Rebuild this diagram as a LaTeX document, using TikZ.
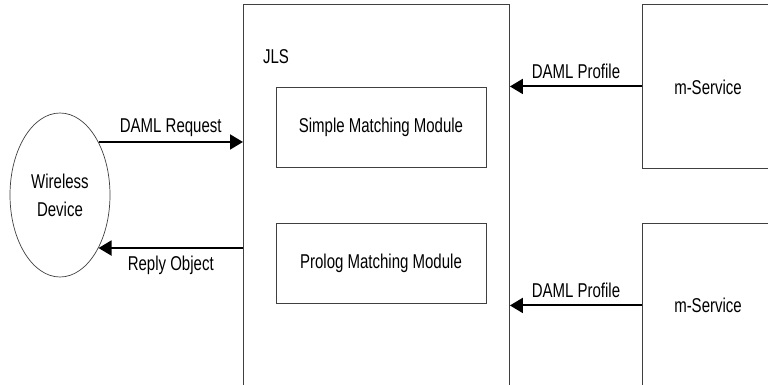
\documentclass[tikz,border=0pt]{standalone}
\usepackage{fontspec}
\setmainfont{Liberation Sans}[FakeStretch=0.75]
\usetikzlibrary{arrows.meta,shapes.geometric}

\begin{document}
\begin{tikzpicture}[x=1pt,y=-1pt,
    every node/.style={font=\fontsize{20}{28}\selectfont},
    frame/.style={draw=black!75,line width=0.9pt,anchor=north west},
    module/.style={draw=black!75,line width=0.9pt,minimum width=210pt,minimum height=80pt},
    msg/.style={line width=2pt,-{Triangle[length=13pt,width=15pt]}}]
  \useasboundingbox (0,0) rectangle (768,385);
  \clip (0,0) rectangle (768,385);
  % server and the two modules
  \node[frame,minimum width=266pt,minimum height=400pt] (jls) at (243,4) {};
  \node (jlslabel) at (276,57) {JLS};
  \node[module] (simple) at (381,127) {Simple Matching Module};
  \node[module] (prolog) at (381,263) {Prolog Matching Module};
  % client
  \node[draw=black!75,line width=0.7pt,ellipse,minimum width=100pt,minimum height=164pt,
    align=center] (device) at (60,195) {Wireless\\Device};
  % service providers
  \node[frame,minimum width=200pt,minimum height=164pt] (svcA) at (642,4) {};
  \node[frame,minimum width=200pt,minimum height=164pt] (svcB) at (642,223) {};
  \node (svcAlabel) at (708,87) {m-Service};
  \node (svcBlabel) at (708,305) {m-Service};
  % messages
  \draw[msg] (device.54) -- (device.54 -| jls.west) node[midway,above=1pt] {DAML Request};
  \draw[msg] (device.-54 -| jls.west) -- (device.-54) node[midway,below=4pt] {Reply Object};
  \draw[msg] (svcA.west) -- (svcA.west -| jls.east) node[midway,above=3.5pt] {DAML Profile};
  \draw[msg] (svcB.west) -- (svcB.west -| jls.east) node[midway,above=3.5pt] {DAML Profile};
\end{tikzpicture}
\end{document}
